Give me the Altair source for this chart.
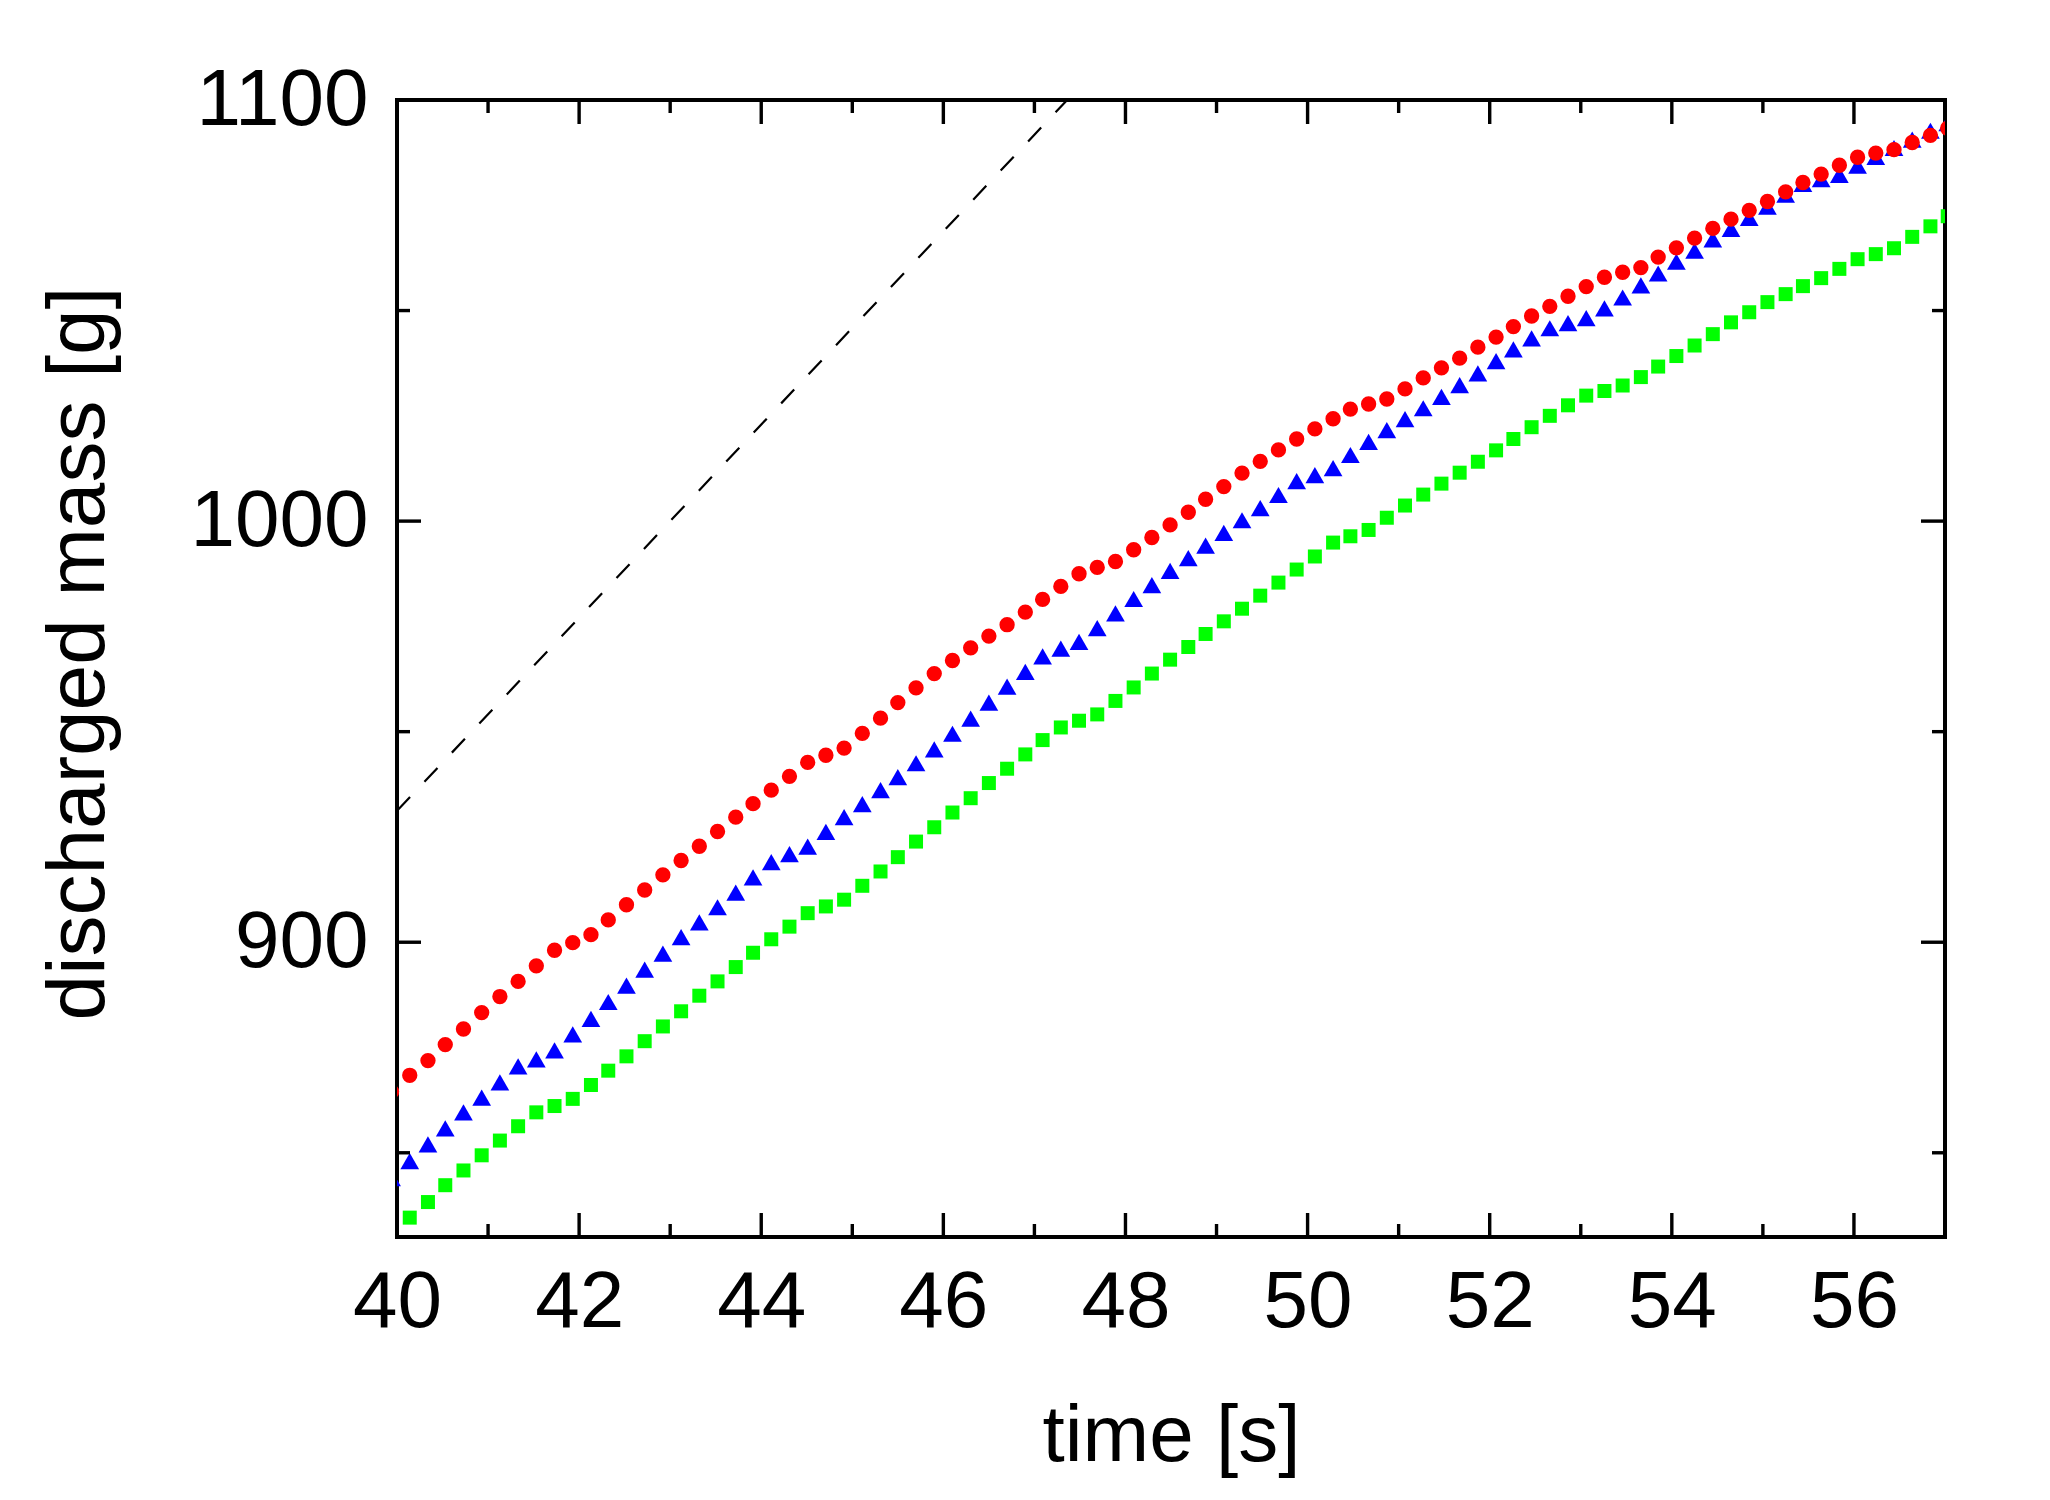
import altair as alt
import pandas as pd

FONT = "Liberation Sans"

# sample times [s]
times = [40.14, 40.34, 40.53, 40.73, 40.93, 41.13, 41.33, 41.53, 41.73, 41.93,
         42.13, 42.32, 42.52, 42.72, 42.92, 43.12, 43.32, 43.52, 43.72, 43.91,
         44.11, 44.31, 44.51, 44.71, 44.91, 45.11, 45.31, 45.50, 45.70, 45.90,
         46.10, 46.30, 46.50, 46.70, 46.90, 47.09, 47.29, 47.49, 47.69, 47.89,
         48.09, 48.29, 48.49, 48.69, 48.88, 49.08, 49.28, 49.48, 49.68, 49.88,
         50.08, 50.28, 50.47, 50.67, 50.87, 51.07, 51.27, 51.47, 51.67, 51.87,
         52.07, 52.26, 52.46, 52.66, 52.86, 53.06, 53.26, 53.46, 53.66, 53.85,
         54.05, 54.25, 54.45, 54.65, 54.85, 55.05, 55.25, 55.44, 55.64, 55.84,
         56.04, 56.24, 56.44, 56.64, 56.84, 57.03]

red_mass = [868.4, 871.9, 875.7, 879.4, 883.3, 887.1, 890.7, 894.4, 898.1, 899.9,
            901.8, 905.3, 908.9, 912.4, 916.0, 919.4, 922.8, 926.3, 929.7, 932.9,
            936.1, 939.4, 942.7, 944.4, 946.1, 949.6, 953.2, 956.9, 960.4, 963.8,
            966.9, 969.9, 972.7, 975.4, 978.4, 981.4, 984.5, 987.5, 989.0, 990.4,
            993.2, 996.1, 999.1, 1002.1, 1005.2, 1008.2, 1011.4, 1014.2, 1016.9, 1019.5,
            1021.9, 1024.3, 1026.6, 1027.8, 1029.0, 1031.4, 1034.0, 1036.4, 1038.7, 1041.3,
            1043.7, 1046.2, 1048.7, 1051.0, 1053.4, 1055.7, 1057.9, 1059.1, 1060.2, 1062.7,
            1064.9, 1067.2, 1069.5, 1071.7, 1073.8, 1075.9, 1078.2, 1080.4, 1082.4, 1084.5,
            1086.4, 1087.4, 1088.2, 1089.9, 1091.6, 1093.3]

blue_mass = [848.0, 852.0, 855.8, 859.6, 863.1, 866.7, 870.5, 872.2, 874.3, 878.1,
             881.8, 885.8, 889.7, 893.5, 897.3, 901.2, 904.7, 908.3, 911.8, 915.4,
             919.0, 920.9, 922.7, 926.2, 929.7, 932.8, 936.1, 939.2, 942.5, 945.8,
             949.5, 953.1, 956.9, 960.7, 964.2, 967.9, 969.7, 971.3, 974.6, 978.1,
             981.5, 984.8, 988.2, 991.2, 994.2, 997.2, 1000.2, 1003.1, 1006.2, 1009.5,
             1010.9, 1012.6, 1015.7, 1018.8, 1021.6, 1024.2, 1026.8, 1029.5, 1032.3, 1035.1,
             1038.0, 1040.8, 1043.4, 1045.8, 1047.0, 1048.2, 1050.5, 1053.1, 1056.0, 1058.8,
             1061.6, 1064.2, 1066.9, 1069.4, 1072.0, 1074.7, 1077.5, 1080.1, 1081.2, 1082.2,
             1084.4, 1086.5, 1088.6, 1090.6, 1092.7, 1094.5]

green_mass = [834.6, 838.3, 842.3, 845.8, 849.4, 852.9, 856.3, 859.6, 861.1, 862.8,
              866.1, 869.5, 872.9, 876.5, 880.0, 883.6, 887.3, 890.7, 894.1, 897.5,
              900.7, 903.7, 906.9, 908.5, 910.1, 913.4, 916.8, 920.2, 923.9, 927.3,
              930.8, 934.2, 937.8, 941.2, 944.6, 948.0, 951.0, 952.6, 954.1, 957.3,
              960.5, 963.8, 967.1, 970.1, 973.2, 976.2, 979.2, 982.3, 985.4, 988.5,
              991.6, 994.9, 996.4, 997.9, 1000.8, 1003.7, 1006.3, 1008.9, 1011.5, 1014.1,
              1016.8, 1019.5, 1022.3, 1025.0, 1027.5, 1029.8, 1030.9, 1032.2, 1034.2, 1036.7,
              1039.2, 1041.7, 1044.4, 1047.2, 1049.6, 1052.0, 1053.9, 1055.8, 1057.7, 1059.9,
              1062.2, 1063.4, 1064.8, 1067.5, 1070.0, 1072.4]

# points just left of the frame (partly visible at the left edge)
edge_time = [39.94]
red_edge = [864.5]
blue_edge = [844.0]

# dashed reference line end points
dash_time = [40.0, 47.36]
dash_mass = [931.2, 1100.0]

# ticks / labels
x_label_values = [40, 42, 44, 46, 48, 50, 52, 54, 56]
x_major_ticks = [40, 42, 44, 46, 48, 50, 52, 54, 56]
x_minor_ticks = [41, 43, 45, 47, 49, 51, 53, 55, 57]
y_label_values = [900, 1000, 1100]
y_major_ticks = [900, 1000, 1100]
y_minor_ticks = [850, 950, 1050]

W, H = 1548, 1137

red_df = pd.DataFrame({"time": edge_time + times, "mass": red_edge + red_mass})
blue_df = pd.DataFrame({"time": edge_time + times, "mass": blue_edge + blue_mass})
green_df = pd.DataFrame({"time": times, "mass": green_mass})
dash_df = pd.DataFrame({"time": dash_time, "mass": dash_mass})
xmaj_df = pd.DataFrame({"time": x_major_ticks})
xmin_df = pd.DataFrame({"time": x_minor_ticks})
ymaj_df = pd.DataFrame({"mass": y_major_ticks})
ymin_df = pd.DataFrame({"mass": y_minor_ticks})

x_scale = alt.Scale(domain=[40, 57], nice=False, zero=False)
y_scale = alt.Scale(domain=[830, 1100], nice=False, zero=False)

x_axis = alt.Axis(values=x_label_values, title="time [s]", format="d",
                  labelPadding=26, labelFlush=False, labelOverlap=False,
                  titleY=223.5, titleBaseline="alphabetic", titleFontSize=80)
y_axis = alt.Axis(values=y_label_values, title="discharged mass [g]", format="d",
                  labelPadding=29, labelFlush=False, labelOverlap=False,
                  titleX=-294, titleY=553, titleAngle=270, titleAlign="center",
                  titleBaseline="alphabetic", titleFontSize=82)

x_enc = alt.X("time:Q", scale=x_scale, axis=x_axis)
y_enc = alt.Y("mass:Q", scale=y_scale, axis=y_axis)

TW = 3.4
MAJ, MIN = 24, 13

top_major = alt.Chart(xmaj_df).mark_rule(color="black", strokeWidth=TW).encode(
    x=x_enc, y=alt.value(0), y2=alt.value(MAJ))
top_minor = alt.Chart(xmin_df).mark_rule(color="black", strokeWidth=TW).encode(
    x=x_enc, y=alt.value(0), y2=alt.value(MIN))
bot_major = alt.Chart(xmaj_df).mark_rule(color="black", strokeWidth=TW).encode(
    x=x_enc, y=alt.value(H), y2=alt.value(H - MAJ))
bot_minor = alt.Chart(xmin_df).mark_rule(color="black", strokeWidth=TW).encode(
    x=x_enc, y=alt.value(H), y2=alt.value(H - MIN))
left_major = alt.Chart(ymaj_df).mark_rule(color="black", strokeWidth=TW).encode(
    y=y_enc, x=alt.value(0), x2=alt.value(MAJ))
left_minor = alt.Chart(ymin_df).mark_rule(color="black", strokeWidth=TW).encode(
    y=y_enc, x=alt.value(0), x2=alt.value(MIN))
right_major = alt.Chart(ymaj_df).mark_rule(color="black", strokeWidth=TW).encode(
    y=y_enc, x=alt.value(W), x2=alt.value(W - MAJ))
right_minor = alt.Chart(ymin_df).mark_rule(color="black", strokeWidth=TW).encode(
    y=y_enc, x=alt.value(W), x2=alt.value(W - MIN))

dashed = alt.Chart(dash_df).mark_line(
    color="black", strokeWidth=2.2, strokeDash=[19, 21], clip=True
).encode(x=x_enc, y=y_enc)

green = alt.Chart(green_df).mark_point(
    shape="square", filled=True, color="#00FF00", opacity=1, size=196, clip=True
).encode(x=x_enc, y=y_enc)
blue = alt.Chart(blue_df).mark_point(
    shape="triangle-up", filled=True, color="#0000FF", opacity=1, size=350, clip=True
).encode(x=x_enc, y=y_enc)
red = alt.Chart(red_df).mark_point(
    shape="circle", filled=True, color="#FF0000", opacity=1, size=235, clip=True
).encode(x=x_enc, y=y_enc)

chart = alt.layer(
    dashed, green, blue, red,
    top_major, top_minor, bot_major, bot_minor,
    left_major, left_minor, right_major, right_minor,
).properties(
    width=W, height=H,
    autosize=alt.AutoSizeParams(type="none"),
    padding={"left": 389, "top": 92, "right": 97, "bottom": 255},
    background="white",
).configure_view(
    stroke="black", strokeWidth=4
).configure_axis(
    domain=False, ticks=False, tickSize=0, grid=False,
    labelFont=FONT, labelFontSize=80, labelColor="black",
    titleFont=FONT, titleColor="black", titleFontWeight="normal",
)

chart.save("out.html", embed_options={"renderer": "svg", "actions": False})
